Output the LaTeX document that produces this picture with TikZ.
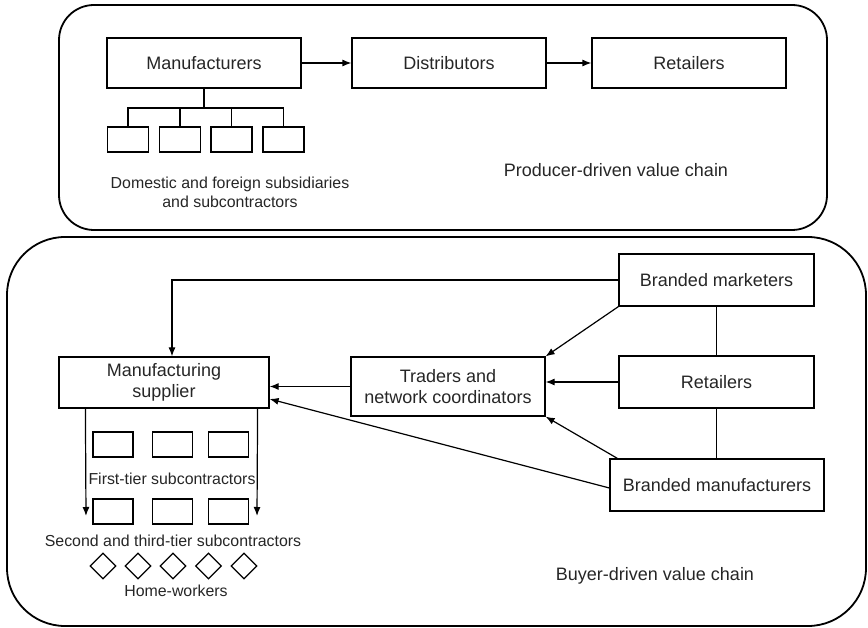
\documentclass[tikz,border=0pt]{standalone}
\usepackage{fontspec}
\setmainfont{Liberation Sans}
\usetikzlibrary{arrows.meta,shapes.geometric}
\begin{document}
\begin{tikzpicture}[x=1pt,y=-1pt,
  every node/.style={font=\fontsize{18}{21}\selectfont, text=black!85},
  box/.style={draw, line width=1.2pt, inner sep=0pt, align=center},
  smallbox/.style={draw, line width=1.2pt, inner sep=0pt, minimum width=41pt, minimum height=25pt},
  tierbox/.style={draw, line width=1.2pt, inner sep=0pt, minimum width=40pt, minimum height=25pt},
  dia/.style={draw, diamond, line width=1.1pt, inner sep=0pt, minimum width=26pt, minimum height=26pt},
  frame/.style={draw, line width=1.8pt},
  lbl/.style={align=center, inner sep=0pt},
  small/.style={font=\fontsize{15.9}{19}\selectfont},
  conn/.style={line width=1.2pt},
  arr/.style={line width=1.2pt, -{Latex[length=9pt,width=7pt]}}
]
\useasboundingbox (0,0) rectangle (868,628);
% frames
\draw[frame, rounded corners=35pt] (59,5) rectangle (827,230);
\draw[frame, rounded corners=58pt] (7,237) rectangle (866,626);

% producer-driven chain
\node[box, minimum width=194pt, minimum height=50pt] (man) at (204,63) {Manufacturers};
\node[box, minimum width=194pt, minimum height=50pt] (dis) at (449,63) {Distributors};
\node[box, minimum width=194pt, minimum height=50pt] (ret) at (689,63) {Retailers};
\draw[arr] (man) -- (dis);
\draw[arr] (dis) -- (ret);
\node[smallbox] (s1) at (128,139.5) {};
\node[smallbox] (s2) at (180,139.5) {};
\node[smallbox] (s3) at (231.5,139.5) {};
\node[smallbox] (s4) at (283.5,139.5) {};
\coordinate (bus) at (204,108);
\draw[conn] (man.south) -- (bus);
\draw[conn] (s1.north) |- (bus) -| (s4.north);
\draw[conn] (s2.north) -- (s2.north |- bus);
\draw[conn] (s3.north) -- (s3.north |- bus);
\node[lbl, small] (dom) at (230,192) {Domestic and foreign subsidiaries\\and subcontractors};
\node[lbl] (pdv) at (616,170) {Producer-driven value chain};

% buyer-driven chain
\node[box, minimum width=210pt, minimum height=51pt] (sup) at (164,382.5) {Manufacturing\\supplier};
\node[box, minimum width=194pt, minimum height=59pt] (tr) at (448,386.5) {Traders and\\network coordinators};
\node[box, minimum width=195pt, minimum height=52pt] (bm) at (716.5,280) {Branded marketers};
\node[box, minimum width=195pt, minimum height=52pt] (ret2) at (716.5,382) {Retailers};
\node[box, minimum width=214pt, minimum height=52pt] (bmf) at (717,485) {Branded manufacturers};

\draw[conn] (bm) -- (ret2);
\draw[conn] (ret2) -- (bm.south |- bmf.north);
\draw[arr] (bm.west) -| ([xshift=8pt]sup.north);
\draw[arr] (bm.south west) -- (tr.north east);
\draw[arr] (ret2.west) -- (tr.east |- ret2.west);
\draw[arr] ([xshift=8pt]bmf.north west) -- (tr.south east);
\draw[arr] (tr.west) -- (sup.east |- tr.west);
\draw[arr] ([yshift=-3pt]bmf.west) -- ([yshift=-16.5pt]sup.east);

% tiers
\node[tierbox] (f1) at (113,444.5) {};
\node[tierbox] (f2) at (172.5,444.5) {};
\node[tierbox] (f3) at (228.5,444.5) {};
\node[lbl, small] (ftl) at (172,479) {First-tier subcontractors};
\node[tierbox] (t1) at (113,511.5) {};
\node[tierbox] (t2) at (172.5,511.5) {};
\node[tierbox] (t3) at (228.5,511.5) {};
\node[lbl, small] (stl) at (173,541) {Second and third-tier subcontractors};
\coordinate (downL) at (86,516);
\coordinate (downR) at (257,516);
\draw[arr] ([xshift=27pt]sup.south west) -- (downL);
\draw[arr] ([xshift=-12pt]sup.south east) -- (downR);
\node[dia] (d1) at (103,566) {};
\node[dia] (d2) at (138,566) {};
\node[dia] (d3) at (173,566) {};
\node[dia] (d4) at (208.5,566) {};
\node[dia] (d5) at (244,566) {};
\node[lbl, small] (hw) at (176,591) {Home-workers};
\node[lbl] (bdv) at (655,576) {Buyer-driven value chain};
\end{tikzpicture}
\end{document}
